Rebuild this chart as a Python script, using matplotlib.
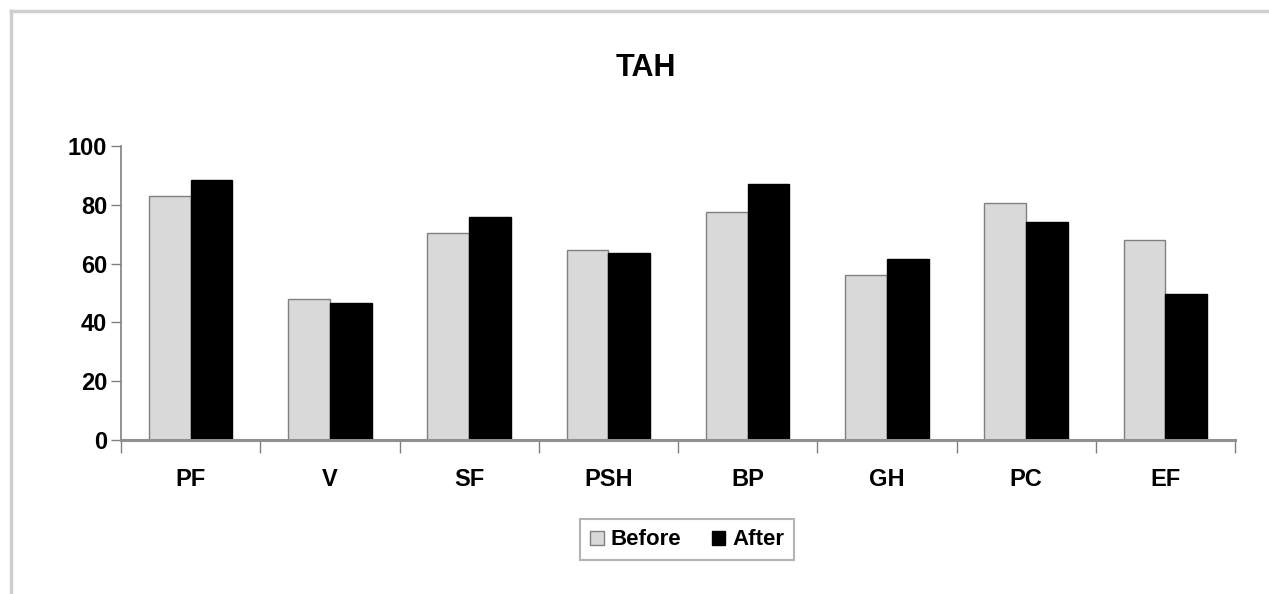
import numpy as np
import matplotlib.pyplot as plt

categories = ["PF", "V", "SF", "PSH", "BP", "GH", "PC", "EF"]
before = [83, 48, 70.5, 64.5, 77.5, 56, 80.5, 68]
after = [88.5, 46.5, 76, 63.5, 87, 61.5, 74, 49.5]

plt.rcParams["font.family"] = ["Liberation Sans", "DejaVu Sans"]
plt.rcParams["font.weight"] = "bold"

fig = plt.figure(figsize=(12.69, 5.94), dpi=100)
ax = fig.add_axes([0.0954, 0.2593, 0.8778, 0.4949])

x = np.arange(len(categories))
w = 0.3
ax.bar(x - w / 2, before, w, color="#d9d9d9", edgecolor="#808080", linewidth=1, label="Before")
ax.bar(x + w / 2, after, w, color="black", edgecolor="black", linewidth=1, label="After")

ax.set_xlim(-0.5, len(categories) - 0.5)
ax.set_ylim(0, 100)
ax.set_yticks(range(0, 101, 20))
ax.tick_params(axis="y", length=7, width=1, color="#808080", labelsize=17, pad=3)

# category boundaries as ticks, names as minor labels
ax.set_xticks(np.arange(-0.5, len(categories)))
ax.set_xticklabels([])
ax.tick_params(axis="x", which="major", direction="out", length=9, width=1, color="#808080")
ax.set_xticks(x, minor=True)
ax.set_xticklabels(categories, minor=True, fontsize=17, fontweight="bold")
ax.tick_params(axis="x", which="minor", length=0, pad=20)

for s in ["top", "right"]:
    ax.spines[s].set_visible(False)
ax.spines["left"].set_color("#808080")
ax.spines["bottom"].set_color("#909090")
ax.spines["bottom"].set_linewidth(2.2)
ax.spines["left"].set_linewidth(1.2)

fig.text(0.509, 0.886, "TAH", ha="center", va="center", fontsize=22, fontweight="bold")

leg = fig.legend(loc="center", bbox_to_anchor=(0.5415, 0.091), ncol=2, frameon=True,
                 fancybox=False, edgecolor="#a0a0a0", fontsize=16, handlelength=0.6,
                 handleheight=0.6, handletextpad=0.3, columnspacing=1.4, borderpad=0.45)
leg.get_frame().set_linewidth(1.5)

# outer chart border (left and top visible)
fig.add_artist(plt.Line2D([0.0087, 0.0087], [0.0, 0.982], color="#cfcfcf", lw=2.5,
                          transform=fig.transFigure))
fig.add_artist(plt.Line2D([0.0087, 1.0], [0.982, 0.982], color="#cfcfcf", lw=2.5,
                          transform=fig.transFigure))

fig.savefig("out.png", dpi=100)
